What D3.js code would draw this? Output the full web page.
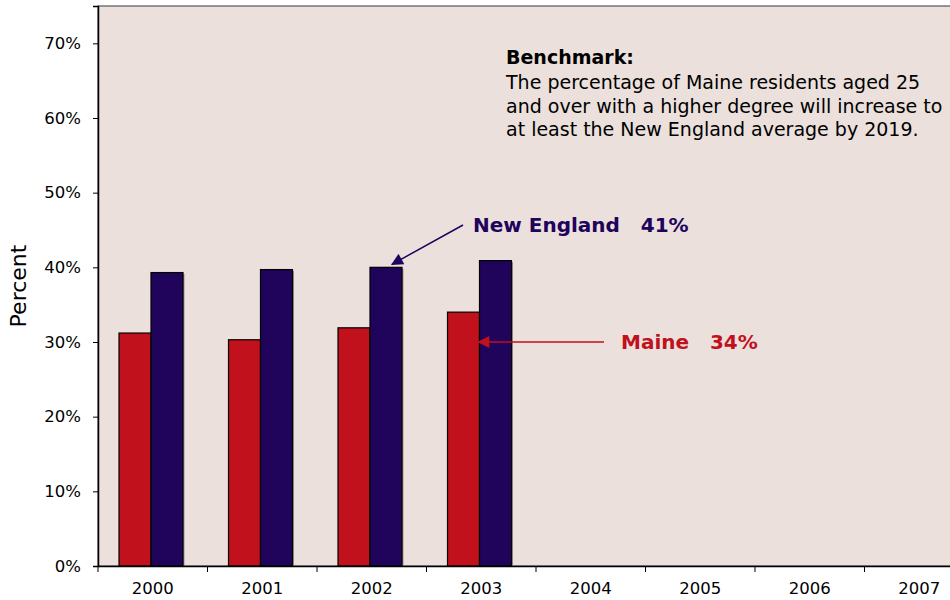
<!DOCTYPE html>
<html>
<head>
<meta charset="utf-8">
<script src="https://cdn.jsdelivr.net/npm/d3@7"></script>
<style>
  body { margin: 0; background: #fff; }
  svg { display: block; font-family: "DejaVu Sans", Verdana, sans-serif; }
</style>
</head>
<body>
<svg id="chart" width="950" height="600"></svg>
<script>
// data
var years = ["2000", "2001", "2002", "2003", "2004", "2005", "2006", "2007"];
var maine = [31.2, 30.3, 31.9, 34.0];
var newEngland = [39.3, 39.7, 40.0, 40.9];
var yTicks = [0, 10, 20, 30, 40, 50, 60, 70];
var benchmarkLines = [
  "The percentage of Maine residents aged 25",
  "and over with a higher degree will increase to",
  "at least the New England average by 2019."
];

var red = "#c0111c", navy = "#20035a";
var svg = d3.select("#chart");
var plotLeft = 98, plotTop = 6, plotBottom = 566, plotRight = 974;

var x = d3.scaleBand().domain(years).range([plotLeft, plotRight]);
var y = d3.scaleLinear().domain([0, 75]).range([plotBottom, plotTop]);

// plot background
svg.append("rect")
  .attr("x", plotLeft).attr("y", plotTop)
  .attr("width", plotRight - plotLeft).attr("height", plotBottom - plotTop)
  .attr("fill", "#ebe0dc").attr("stroke", "#555").attr("stroke-width", 1.2);

var barW = 32, offset = 21;
function drawBars(vals, shift, color) {
  var g = svg.append("g");
  // faint shadow
  g.selectAll("rect.sh").data(vals).join("rect")
    .attr("x", function(d, i) { return x(years[i]) + offset + shift + 1.5; })
    .attr("y", function(d) { return y(d) + 1.5; })
    .attr("width", barW)
    .attr("height", function(d) { return plotBottom - y(d) - 1.5; })
    .attr("fill", "#9a8f8b");
  g.selectAll("rect.bar").data(vals).join("rect")
    .attr("x", function(d, i) { return x(years[i]) + offset + shift; })
    .attr("y", function(d) { return y(d); })
    .attr("width", barW)
    .attr("height", function(d) { return plotBottom - y(d); })
    .attr("fill", color).attr("stroke", "#000").attr("stroke-width", 1.2);
}
drawBars(maine, 0, red);
drawBars(newEngland, barW, navy);

// axes
var yAxis = svg.append("g").attr("transform", "translate(" + plotLeft + ",0)")
  .call(d3.axisLeft(y).tickValues(yTicks).tickSize(5).tickPadding(12)
    .tickFormat(function(d) { return d + "%"; }));
var xAxis = svg.append("g").attr("transform", "translate(0," + plotBottom + ")")
  .call(d3.axisBottom(x).tickSize(0).tickPadding(16));
xAxis.selectAll(".tick").append("line")
  .attr("x1", -x.bandwidth() / 2).attr("x2", -x.bandwidth() / 2)
  .attr("y1", 0).attr("y2", 6).attr("stroke", "#000");
[yAxis, xAxis].forEach(function(a) {
  a.select(".domain").attr("stroke", "#000").attr("stroke-width", 1.5);
  a.selectAll("text").attr("font-size", 16.5).attr("fill", "#000")
    .attr("font-family", "DejaVu Sans, Verdana, sans-serif");
});

svg.append("text")
  .attr("transform", "translate(26," + (y(37.5)) + ") rotate(-90)")
  .attr("text-anchor", "middle").attr("font-size", 22)
  .text("Percent");

// arrows
var defs = svg.append("defs");
function marker(id, color) {
  defs.append("marker").attr("id", id)
    .attr("viewBox", "0 0 10 10").attr("refX", 9).attr("refY", 5)
    .attr("markerWidth", 14).attr("markerHeight", 12).attr("orient", "auto")
    .attr("markerUnits", "userSpaceOnUse")
    .append("path").attr("d", "M0,0L10,5L0,10z").attr("fill", color);
}
marker("ah-navy", navy);
marker("ah-red", red);

svg.append("line")
  .attr("x1", 463).attr("y1", 225)
  .attr("x2", x("2002") + offset + barW + 22).attr("y2", y(newEngland[2]) - 3)
  .attr("stroke", navy).attr("stroke-width", 1.5).attr("marker-end", "url(#ah-navy)");
svg.append("line")
  .attr("x1", 604).attr("y1", y(30))
  .attr("x2", x("2003") + offset + barW - 1).attr("y2", y(30))
  .attr("stroke", red).attr("stroke-width", 1.5).attr("marker-end", "url(#ah-red)");

svg.append("text").attr("x", 473).attr("y", 232)
  .attr("font-size", 20).attr("font-weight", "bold").attr("fill", navy)
  .attr("xml:space", "preserve").text("New England   41%");
svg.append("text").attr("x", 621).attr("y", 349)
  .attr("font-size", 20).attr("font-weight", "bold").attr("fill", red)
  .attr("xml:space", "preserve").text("Maine   34%");

// benchmark note
var note = svg.append("text").attr("x", 506).attr("y", 64).attr("font-size", 19).attr("fill", "#000");
note.append("tspan").attr("font-weight", "bold").text("Benchmark:");
benchmarkLines.forEach(function(line, i) {
  note.append("tspan").attr("x", 506).attr("dy", i === 0 ? 25 : 23.5).text(line);
});
</script>
</body>
</html>
